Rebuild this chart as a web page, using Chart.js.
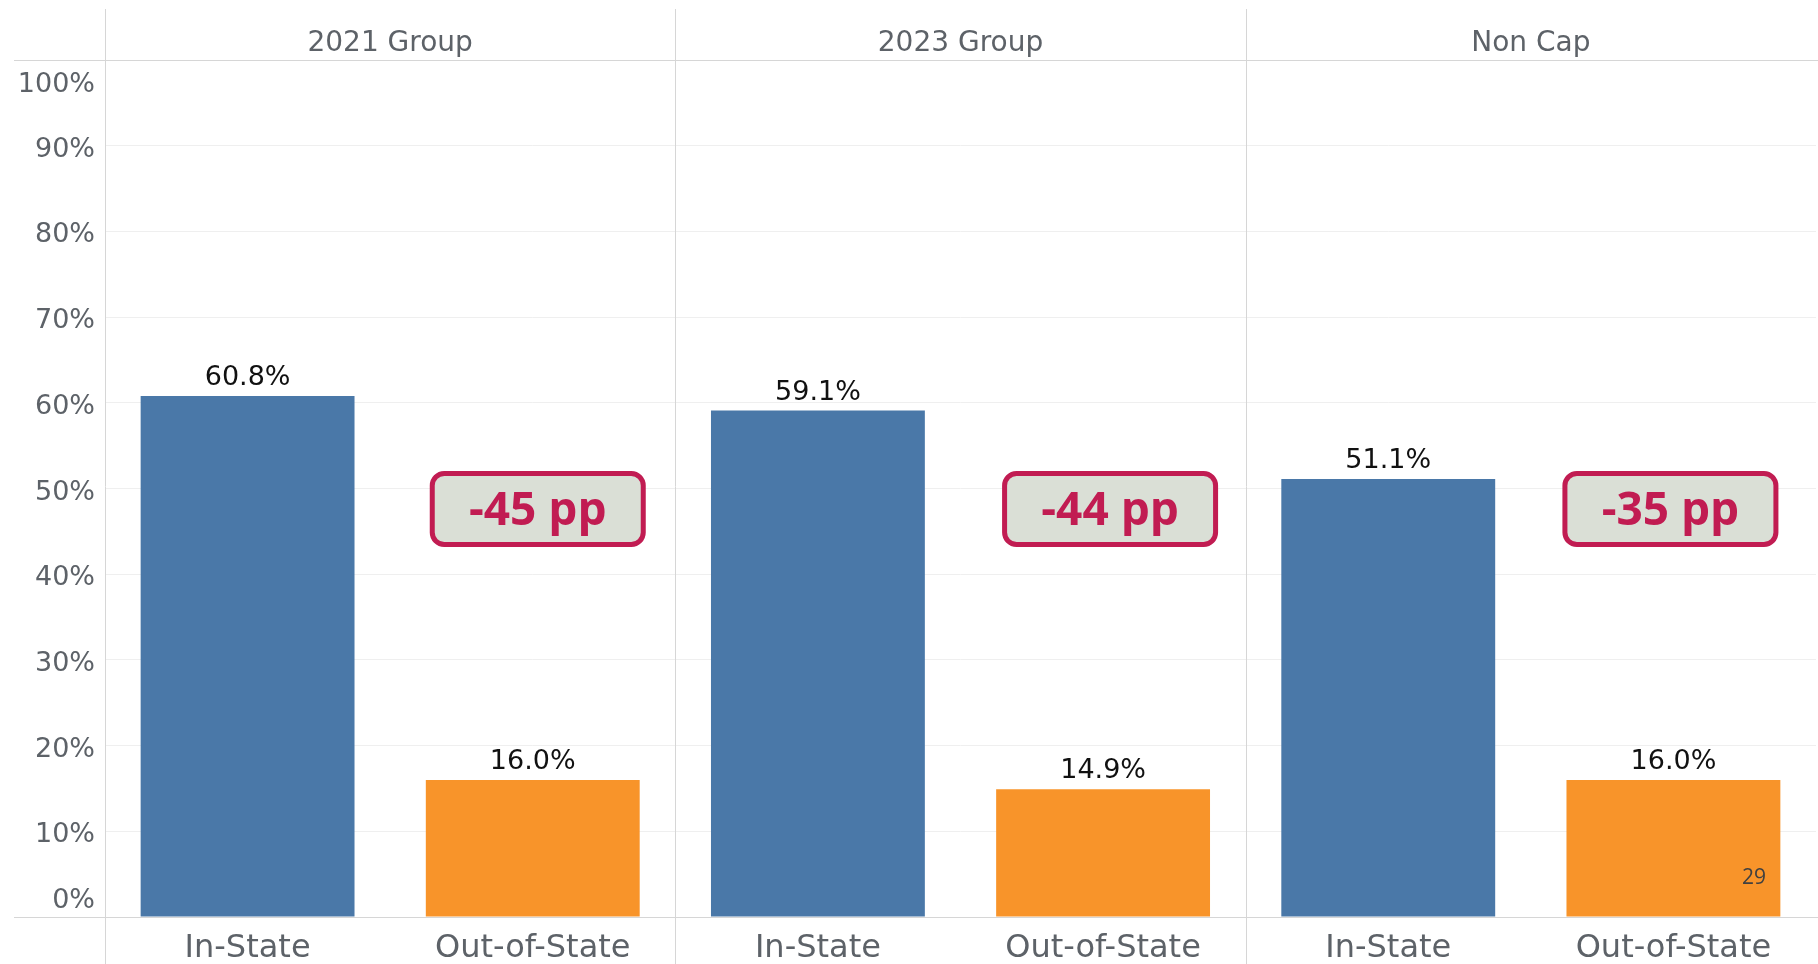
<!DOCTYPE html>
<html>
<head>
<meta charset="utf-8">
<script src="https://cdn.jsdelivr.net/npm/chart.js@4.4.1/dist/chart.umd.min.js"></script>
<style>
  html, body { margin: 0; padding: 0; background: #ffffff; }
  #wrap { position: relative; width: 1818px; height: 964px; }
  #page { position: absolute; left: 1742px; top: 866px; font: 21px/21px "Open Sans", sans-serif; color: #404040; }
</style>
</head>
<body>
<div id="wrap">
  <canvas id="c" width="1818" height="964"></canvas>
  <div id="page">29</div>
</div>
<script>
// ---- data ----
const categories = ['In-State', 'Out-of-State', 'In-State', 'Out-of-State', 'In-State', 'Out-of-State'];
const groups = ['2021 Group', '2023 Group', 'Non Cap'];
const values = [60.8, 16.0, 59.1, 14.9, 51.1, 16.0];
const gapLabels = ['-45 pp', '-44 pp', '-35 pp'];
const yTickLabels = ['0%', '10%', '20%', '30%', '40%', '50%', '60%', '70%', '80%', '90%', '100%'];

// ---- styles ----
const barColors = ['#4a78a8', '#f8942a', '#4a78a8', '#f8942a', '#4a78a8', '#f8942a'];
const boxShift = [5, 7, -3];
const GRAY = '#5d6268';
const LINE = '#d6d6d6';
const FONT = 'DejaVu Sans';

const decor = {
  id: 'decor',
  beforeDatasetsDraw(chart) {
    const ctx = chart.ctx, xs = chart.scales.x, ys = chart.scales.y;
    ctx.save();
    ctx.strokeStyle = LINE;
    ctx.lineWidth = 1;
    const bounds = [xs.left];
    for (let i = 2; i < categories.length; i += 2) {
      bounds.push((xs.getPixelForValue(i - 1) + xs.getPixelForValue(i)) / 2);
    }
    bounds.forEach(x => {
      const px = Math.round(x) + 0.5;
      ctx.beginPath(); ctx.moveTo(px, 9); ctx.lineTo(px, chart.height); ctx.stroke();
    });
    [ys.getPixelForValue(100), ys.getPixelForValue(0)].forEach(y => {
      const py = Math.round(y) + 0.5;
      ctx.beginPath(); ctx.moveTo(14, py); ctx.lineTo(chart.width, py); ctx.stroke();
    });
    ctx.fillStyle = GRAY;
    ctx.font = '27px "' + FONT + '"';
    ctx.textAlign = 'right';
    ctx.textBaseline = 'alphabetic';
    const lx = ys.right - 10;
    ctx.fillText(yTickLabels[0], lx, ys.getPixelForValue(0) - 9);
    ctx.fillText(yTickLabels[yTickLabels.length - 1], lx, ys.getPixelForValue(100) + 32);
    ctx.restore();
  },
  afterDatasetsDraw(chart) {
    const ctx = chart.ctx, ys = chart.scales.y;
    const meta = chart.getDatasetMeta(0);
    ctx.save();
    ctx.fillStyle = '#111111';
    ctx.font = '27px "' + FONT + '"';
    ctx.textAlign = 'center';
    ctx.textBaseline = 'alphabetic';
    meta.data.forEach((bar, i) => {
      ctx.fillText(values[i].toFixed(1) + '%', bar.x, bar.y - 11);
    });
    const boxY = ys.getPixelForValue(47.6);
    gapLabels.forEach((txt, g) => {
      const bar = meta.data[g * 2 + 1];
      const cx = bar.x + boxShift[g];
      const w = 211, h = 71, r = 12;
      const x0 = cx - w / 2, y0 = boxY - h / 2;
      ctx.beginPath();
      ctx.roundRect(x0, y0, w, h, r);
      ctx.fillStyle = '#dadfd6';
      ctx.fill();
      ctx.lineWidth = 5;
      ctx.strokeStyle = '#c11c52';
      ctx.stroke();
      ctx.fillStyle = '#c11c52';
      ctx.font = 'bold 46px "Open Sans"';
      ctx.textAlign = 'center';
      ctx.textBaseline = 'alphabetic';
      ctx.fillText(txt, cx, boxY + 16);
    });
    ctx.restore();
  }
};

new Chart(document.getElementById('c'), {
  type: 'bar',
  data: {
    labels: categories,
    datasets: [{
      data: values,
      backgroundColor: barColors,
      borderWidth: 0,
      barPercentage: 0.75,
      categoryPercentage: 1.0
    }]
  },
  options: {
    responsive: false,
    devicePixelRatio: 1,
    animation: false,
    layout: { padding: { left: 0, right: 2, top: 0, bottom: 0 } },
    plugins: { legend: { display: false }, tooltip: { enabled: false } },
    scales: {
      x: {
        type: 'category',
        position: 'bottom',
        grid: { display: false, drawTicks: false },
        border: { display: false },
        ticks: {
          autoSkip: false, maxRotation: 0, minRotation: 0,
          color: GRAY, padding: 12,
          font: { family: FONT, size: 32 }
        },
        afterFit(scale) { scale.height = 47; }
      },
      xTop: {
        type: 'category',
        position: 'top',
        labels: groups,
        offset: true,
        grid: { display: false, drawTicks: false },
        border: { display: false },
        ticks: {
          autoSkip: false, maxRotation: 0, minRotation: 0,
          color: GRAY, padding: -1,
          font: { family: FONT, size: 28 }
        },
        afterFit(scale) { scale.height = 60; }
      },
      y: {
        min: 0, max: 100,
        grid: {
          drawTicks: false,
          color: c => (c.tick && (c.tick.value === 0 || c.tick.value === 100)) ? 'rgba(0,0,0,0)' : '#efefef'
        },
        border: { display: false },
        ticks: {
          stepSize: 10,
          color: GRAY, padding: 10, labelOffset: 4,
          font: { family: FONT, size: 27 },
          callback: (v, i) => (i === 0 || i === yTickLabels.length - 1) ? '' : yTickLabels[i]
        },
        afterFit(scale) { scale.width = 105; }
      }
    }
  },
  plugins: [decor]
});
</script>
</body>
</html>
